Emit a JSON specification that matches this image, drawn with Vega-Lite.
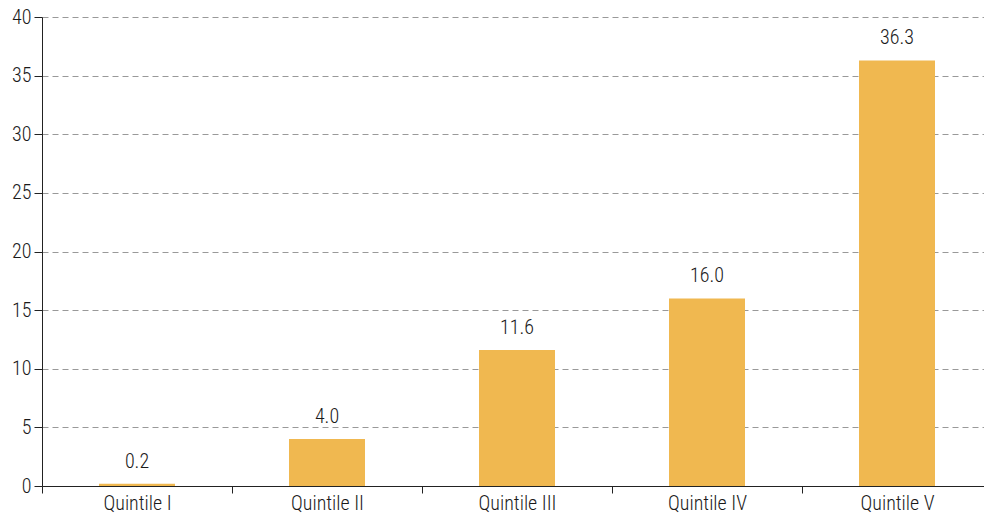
{
  "$schema": "https://vega.github.io/schema/vega-lite/v6.json",
  "autosize": {"type": "none"},
  "padding": {"left": 42, "top": 17, "right": 0, "bottom": 27},
  "width": 942,
  "height": 469,
  "background": "white",
  "config": {
    "font": "Roboto Condensed, Liberation Sans Narrow, Roboto, sans-serif",
    "view": {"stroke": null}
  },
  "data": {
    "values": [
      {"q": "Quintile I", "v": 0.2},
      {"q": "Quintile II", "v": 4.0},
      {"q": "Quintile III", "v": 11.6},
      {"q": "Quintile IV", "v": 16.0},
      {"q": "Quintile V", "v": 36.3}
    ]
  },
  "encoding": {
    "x": {
      "field": "q", "type": "nominal", "sort": null,
      "scale": {"paddingInner": 0, "paddingOuter": 0, "range": [0, 950]},
      "axis": {
        "title": null, "labelAngle": 0, "labelFontSize": 20, "labelColor": "#1a1a1a",
        "labelFont": "Roboto Condensed, Liberation Sans Narrow, sans-serif", "labelFontWeight": 300,
        "labelBaseline": "alphabetic",
        "tickBand": "extent", "tickSize": 7, "tickColor": "#222", "domainColor": "#222",
        "labelPadding": 16
      }
    },
    "y": {
      "field": "v", "type": "quantitative",
      "scale": {"domain": [0, 40]},
      "axis": {
        "title": null, "values": [0, 5, 10, 15, 20, 25, 30, 35, 40],
        "labelFontSize": 20, "labelColor": "#1a1a1a",
        "labelFont": "Roboto Condensed, Liberation Sans Narrow, sans-serif", "labelFontWeight": 300,
        "tickSize": 8, "tickColor": "#222", "domainColor": "#222",
        "grid": true, "gridDash": [6, 4], "gridColor": "#999", "gridWidth": 1,
        "labelPadding": 3
      }
    }
  },
  "layer": [
    {"mark": {"type": "bar", "color": "#F0B850", "width": {"band": 0.4}}},
    {
      "mark": {"type": "text", "baseline": "alphabetic", "dy": -16, "fontSize": 20, "color": "#1a1a1a",
        "fontWeight": 300,
        "font": "Roboto Condensed, Liberation Sans Narrow, sans-serif"},
      "encoding": {"text": {"field": "v", "type": "quantitative", "format": ".1f"}}
    }
  ]
}
